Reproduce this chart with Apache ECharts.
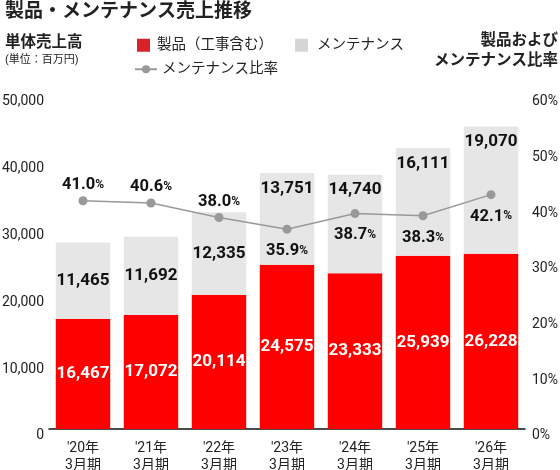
<!DOCTYPE html>
<html>
<head>
<meta charset="utf-8">
<script src="https://cdn.jsdelivr.net/npm/echarts@6/dist/echarts.min.js"></script>
<style>
  html, body { margin: 0; padding: 0; background: #fff; }
  #chart { width: 560px; height: 470px; }
</style>
</head>
<body>
<div id="chart"></div>
<script>
// 年度
const categories = ["'20年\n3月期", "'21年\n3月期", "'22年\n3月期", "'23年\n3月期", "'24年\n3月期", "'25年\n3月期", "'26年\n3月期"]
// 製品（工事含む）
const productSales = [16467, 17072, 20114, 24575, 23333, 25939, 26228]
// メンテナンス
const maintSales = [11465, 11692, 12335, 13751, 14740, 16111, 19070]
// メンテナンス比率
const maintRatio = [41.0, 40.6, 38.0, 35.9, 38.7, 38.3, 42.1]
// 比率ラベルの位置（上 / 下）
const ratioLabelPos = ['top', 'top', 'top', 'bottom', 'bottom', 'bottom', 'bottom']
// メンテナンスラベル: 中央 or 上
const maintLabelPos = ['inside', 'inside', 'inside', 'insideTop', 'insideTop', 'insideTop', 'insideTop']

const FONT = "Roboto, 'Noto Sans CJK JP', sans-serif"
const fmt = v => v.toLocaleString('en-US')

const chart = echarts.init(document.getElementById('chart'))

const option = {
  animation: false,
  textStyle: { fontFamily: FONT },
  title: [
    {
      text: '製品・メンテナンス売上推移',
      left: 0, top: -2,
      textStyle: { fontSize: 19, fontWeight: 'bold', color: '#222', fontFamily: FONT },
    },
    {
      text: '単体売上高',
      subtext: '(単位：百万円)',
      left: 0, top: 30,
      itemGap: 4,
      textStyle: { fontSize: 15.5, fontWeight: 'bold', color: '#222', fontFamily: FONT },
      subtextStyle: { fontSize: 11, color: '#222', fontFamily: FONT },
    },
  ],
  // 右上の軸タイトル
  graphic: [
    {
      type: 'text', right: 2, top: 33,
      style: { text: '製品および', font: "bold 15.5px " + FONT, fill: '#222' },
    },
    {
      type: 'text', right: 2, top: 53,
      style: { text: 'メンテナンス比率', font: "bold 15.5px " + FONT, fill: '#222' },
    },
  ],
  legend: [
    {
      data: [{ name: '製品（工事含む）', itemStyle: { color: '#d9222a' } }],
      left: 132, top: 33,
      itemWidth: 13, itemHeight: 13, icon: 'rect', itemGap: 0,
      textStyle: { fontSize: 14.5, color: '#222', padding: [0, 0, 0, 2] },
    },
    {
      data: [{ name: 'メンテナンス', itemStyle: { color: '#d6d6d6' } }],
      left: 290, top: 33,
      itemWidth: 13, itemHeight: 13, icon: 'rect',
      textStyle: { fontSize: 14.5, color: '#222', padding: [0, 0, 0, 4] },
    },
    {
      data: ['メンテナンス比率'],
      left: 129, top: 57,
      itemWidth: 22, itemHeight: 10,
      textStyle: { fontSize: 14.5, color: '#222', padding: [0, 0, 0, 0] },
    },
  ],
  grid: { left: 49, right: 35, top: 95, bottom: 41, outerBoundsMode: 'none', containLabel: false },
  xAxis: {
    type: 'category',
    data: categories,
    axisLine: { lineStyle: { color: '#111', width: 1.5 } },
    axisTick: { show: false },
    axisLabel: { fontSize: 14, color: '#222', lineHeight: 17, margin: 11 },
  },
  yAxis: [
    {
      type: 'value', min: 0, max: 50000, interval: 10000,
      splitLine: { show: false },
      axisLine: { show: false },
      axisTick: { show: false },
      axisLabel: { fontSize: 14, color: '#222', margin: 5, verticalAlign: 'top', formatter: v => fmt(v) },
    },
    {
      type: 'value', min: 0, max: 60, interval: 10,
      splitLine: { show: false },
      axisLine: { show: false },
      axisTick: { show: false },
      axisLabel: { fontSize: 14, color: '#222', margin: 7, verticalAlign: 'top', formatter: '{value}%' },
    },
  ],
  series: [
    {
      name: '製品（工事含む）',
      type: 'bar',
      stack: 'sales',
      barCategoryGap: '20%',
      itemStyle: { color: '#ff0000' },
      label: {
        show: true, position: 'inside',
        color: '#fff', fontSize: 17, fontWeight: 'bold',
        formatter: p => fmt(p.value),
      },
      data: productSales,
    },
    {
      name: 'メンテナンス',
      type: 'bar',
      stack: 'sales',
      itemStyle: { color: '#e6e6e6' },
      label: {
        show: true,
        color: '#111', fontSize: 17, fontWeight: 'bold',
        formatter: p => fmt(p.value),
      },
      data: maintSales.map((v, i) => ({
        value: v,
        label: { position: maintLabelPos[i], distance: 7 },
      })),
    },
    {
      name: 'メンテナンス比率',
      type: 'line',
      yAxisIndex: 1,
      symbol: 'circle',
      symbolSize: 9,
      itemStyle: { color: '#999' },
      lineStyle: { color: '#999', width: 1.5 },
      label: {
        show: true,
        formatter: p => '{a|' + p.value.toFixed(1) + '}{b|%}',
        rich: {
          a: { fontSize: 16.5, fontWeight: 'bold', color: '#111', fontFamily: FONT },
          b: { fontSize: 12, fontWeight: 'bold', color: '#111', fontFamily: FONT },
        },
      },
      data: maintRatio.map((v, i) => ({
        value: v,
        label: { position: ratioLabelPos[i], distance: ratioLabelPos[i] === 'top' ? 3 : 9 },
      })),
    },
  ],
}

chart.setOption(option)
</script>
</body>
</html>
